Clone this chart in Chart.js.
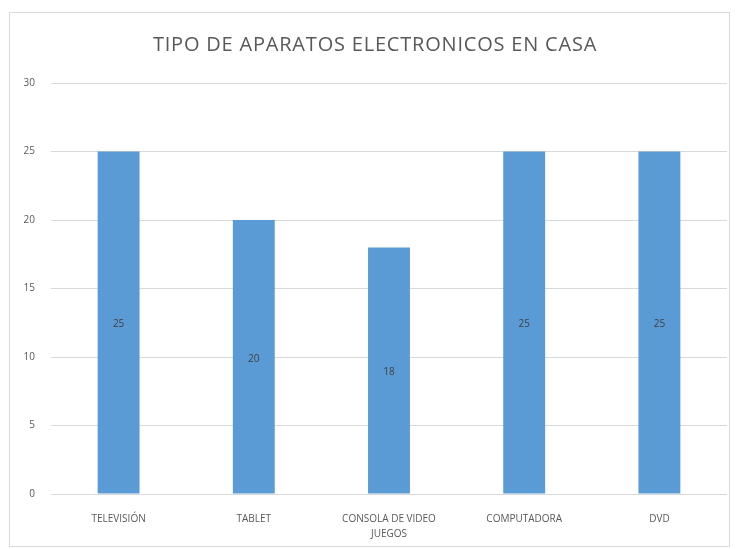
<!DOCTYPE html>
<html>
<head>
<meta charset="utf-8">
<script src="https://cdn.jsdelivr.net/npm/chart.js@4"></script>
<style>
  html, body { margin: 0; padding: 0; background: #fff; }
  #wrap { position: relative; width: 737px; height: 549px; }
</style>
</head>
<body>
<div id="wrap"><canvas id="aparatosChart" width="737" height="549"></canvas></div>
<script>
const categorias = ['TELEVISIÓN', 'TABLET', ['CONSOLA DE VIDEO', 'JUEGOS'], 'COMPUTADORA', 'DVD'];
const cantidades = [25, 20, 18, 25, 25];
const ticksY = [0, 5, 10, 15, 20, 25, 30];
const titulo = 'TIPO DE APARATOS ELECTRONICOS EN CASA';

const fuente = '"Open Sans", "Liberation Sans", sans-serif';

// marco, titulo y etiquetas dentro de las barras
const extras = {
    id: 'extras',
    beforeDraw(chart) {
        const ctx = chart.ctx;
        ctx.save();
        ctx.fillStyle = '#fff';
        ctx.fillRect(0, 0, chart.width, chart.height);
        ctx.strokeStyle = '#d9d9d9';
        ctx.lineWidth = 1;
        ctx.strokeRect(9.5, 12.5, 720, 534);
        ctx.fillStyle = '#595959';
        ctx.font = '20px ' + fuente;
        ctx.letterSpacing = '0.8px';
        ctx.textAlign = 'center';
        ctx.textBaseline = 'middle';
        ctx.fillText(titulo, 375, 45);
        ctx.restore();
    },
    afterDatasetsDraw(chart) {
        const ctx = chart.ctx;
        const meta = chart.getDatasetMeta(0);
        ctx.save();
        ctx.fillStyle = '#404040';
        ctx.font = '10px ' + fuente;
        ctx.textAlign = 'center';
        ctx.textBaseline = 'middle';
        meta.data.forEach(function (bar, i) {
            ctx.fillText(String(cantidades[i]), bar.x, (bar.y + bar.base) / 2 + 2);
        });
        ctx.restore();
    }
};

var ctx = document.getElementById('aparatosChart').getContext('2d');
var chart = new Chart(ctx, {
    type: 'bar',
    data: {
        labels: categorias,
        datasets: [{
            label: 'Cantidad',
            data: cantidades,
            backgroundColor: '#5b9bd5',
            borderWidth: 0,
            barPercentage: 0.62,
            categoryPercentage: 0.5
        }]
    },
    options: {
        responsive: false,
        animation: false,
        layout: { padding: { top: 83, right: 10, bottom: 0, left: 0 } },
        plugins: {
            legend: { display: false },
            title: { display: false },
            tooltip: { enabled: false }
        },
        scales: {
            x: {
                grid: { display: false },
                border: { display: false },
                ticks: {
                    color: '#595959',
                    font: { family: fuente, size: 10, lineHeight: 1.5 },
                    padding: 10,
                    maxRotation: 0,
                    autoSkip: false
                },
                afterFit(scale) { scale.height = 55; }
            },
            y: {
                min: 0,
                max: 30,
                afterBuildTicks(scale) {
                    scale.ticks = ticksY.map(function (v) { return { value: v }; });
                },
                grid: { color: '#d9d9d9', drawTicks: false },
                border: { display: false },
                ticks: {
                    color: '#595959',
                    font: { family: fuente, size: 10 },
                    padding: 16
                },
                afterFit(scale) { scale.width = 51; }
            }
        }
    },
    plugins: [extras]
});
</script>
</body>
</html>
